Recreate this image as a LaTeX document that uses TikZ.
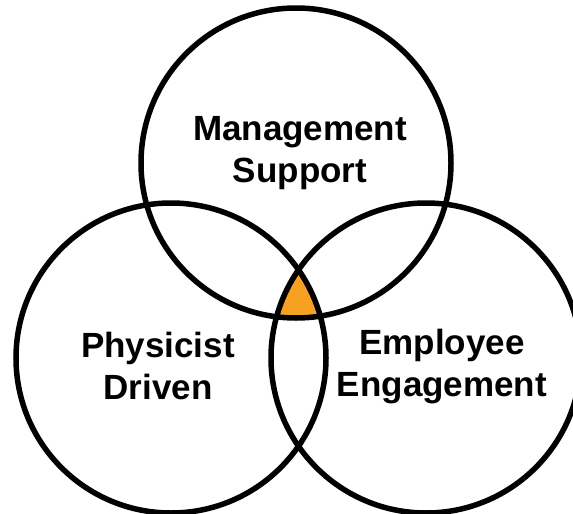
\documentclass[tikz,border=0pt]{standalone}
\usepackage{fontspec}
\setmainfont{Liberation Sans}
\definecolor{overlap}{RGB}{246,161,34}
\tikzset{ring/.style={draw,line width=5.5pt},
  tag/.style={font=\fontsize{35}{42}\selectfont\bfseries,align=center}}

\begin{document}
\begin{tikzpicture}[x=1pt,y=-1pt]
\useasboundingbox(0,0)rectangle(573,514);
\coordinate(mgmt)at(296,163);
\coordinate(phys)at(171,358);
\coordinate(empl)at(426,358);
\begin{scope}
\clip(mgmt)circle(155pt);
\clip(phys)circle(155pt);
\path[draw=none,fill=overlap](empl)circle(155pt);
\end{scope}
\draw[ring](mgmt)circle(155pt);
\draw[ring](phys)circle(155pt);
\draw[ring](empl)circle(155pt);
\node[tag](mgmtlabel)at(300,153){Management\\Support};
\node[tag](physlabel)at(158,366){Physicist\\Driven};
\node[tag](empllabel)at(442,367){Employee\\Engagement};
\end{tikzpicture}
\end{document}
